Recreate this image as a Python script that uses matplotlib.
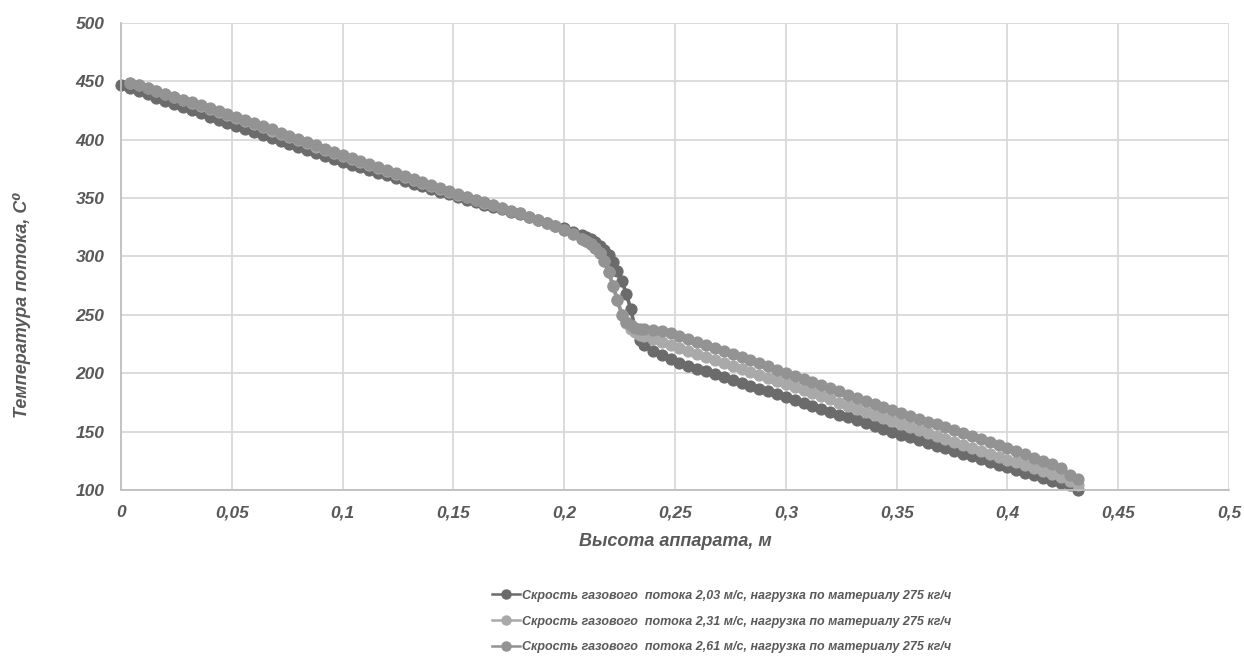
import numpy as np
import matplotlib
matplotlib.use("Agg")
import matplotlib.pyplot as plt
from matplotlib.lines import Line2D

# Высота аппарата, м (шаг мельче в зоне резкого падения температуры)
x_top = np.round(np.arange(0.0, 0.2081, 0.004), 3)
x_mid = np.round(np.arange(0.210, 0.2361, 0.002), 3)
x_low = np.round(np.arange(0.240, 0.4321, 0.004), 3)
height = np.concatenate([x_top, x_mid, x_low])

# 2,03 м/с
temp_203 = [447.0, 444.3, 441.6, 438.8, 436.1, 433.4, 430.7, 428.0, 425.2, 422.5,
            419.8, 417.1, 414.4, 411.7, 409.2, 406.6, 404.0, 401.5, 398.9, 396.4,
            393.8, 391.2, 388.7, 386.1, 383.6, 381.0, 378.7, 376.4, 374.0, 371.7,
            369.4, 367.1, 364.8, 362.4, 360.1, 357.8, 355.5, 353.2, 350.9, 348.8,
            346.7, 344.5, 342.4, 340.3, 338.1, 336.0, 333.6, 331.2, 328.8, 326.4,
            324.0, 321.4, 318.7,
            317.0, 315.0, 312.5, 309.0, 305.5, 301.0, 295.0, 288.0, 279.0, 268.0,
            255.0, 238.0, 228.5, 224.0,
            219.0, 215.4, 211.8, 208.8, 206.3, 203.9, 201.5, 199.0, 196.6, 194.1,
            191.7, 189.3, 186.8, 184.4, 181.9, 179.5, 177.0, 174.5, 172.1, 169.6,
            167.1, 164.6, 162.1, 159.7, 157.2, 154.7, 152.2, 149.7, 147.3, 145.0,
            142.7, 140.4, 138.1, 135.7, 133.4, 131.1, 128.8, 126.5, 124.1, 121.8,
            119.5, 117.2, 114.9, 112.6, 110.3, 108.0, 106.0, 104.0, 100.0]

# 2,31 м/с
temp_231 = [np.nan, 449.0, 446.5, 444.0, 441.4, 438.9, 436.4, 433.9, 431.3, 428.8,
            426.3, 423.8, 421.2, 418.6, 415.9, 413.2, 410.5, 407.8, 405.0, 402.3,
            399.6, 396.9, 394.2, 391.4, 388.7, 386.0, 383.4, 380.9, 378.3, 375.8,
            373.2, 370.6, 368.1, 365.5, 363.0, 360.4, 357.8, 355.3, 352.9, 350.6,
            348.3, 346.1, 343.8, 341.5, 339.3, 337.0, 334.2, 331.4, 328.6, 325.8,
            323.0, 319.0, 315.0,
            313.0, 310.5, 307.0, 303.0, 296.0, 287.0, 275.0, 262.5, 250.0, 243.0,
            238.0, 235.0, 233.0, 231.5,
            229.0, 226.4, 223.8, 221.2, 218.7, 216.2, 213.7, 211.2, 208.6, 206.1,
            203.6, 201.1, 198.6, 196.0, 193.5, 191.0, 188.3, 185.6, 182.9, 180.2,
            177.6, 174.9, 172.2, 169.5, 166.9, 164.2, 161.5, 158.8, 156.2, 153.7,
            151.2, 148.7, 146.2, 143.7, 141.1, 138.6, 136.1, 133.6, 131.0, 128.5,
            126.0, 123.6, 121.2, 118.8, 116.4, 114.0, 111.0, 108.0, 104.0]

# 2,61 м/с
temp_261 = [np.nan, 449.0, 446.6, 444.1, 441.7, 439.3, 436.8, 434.4, 432.0, 429.6,
            427.1, 424.7, 422.2, 419.6, 416.9, 414.2, 411.5, 408.8, 406.0, 403.3,
            400.6, 397.9, 395.2, 392.4, 389.7, 387.0, 384.4, 381.8, 379.2, 376.6,
            374.0, 371.4, 368.8, 366.2, 363.6, 361.0, 358.4, 355.8, 353.3, 351.0,
            348.7, 346.3, 344.0, 341.7, 339.3, 337.0, 334.2, 331.4, 328.6, 325.8,
            323.0, 319.0, 315.0,
            313.0, 310.5, 307.0, 303.0, 296.0, 287.0, 275.0, 262.5, 250.0, 244.0,
            241.0, 239.0, 238.0, 237.5,
            237.0, 236.0, 234.5, 232.2, 229.5, 226.9, 224.3, 221.6, 219.0, 216.3,
            213.7, 211.1, 208.4, 205.8, 203.1, 200.5, 197.8, 195.1, 192.5, 189.8,
            187.1, 184.4, 181.7, 179.1, 176.4, 173.7, 171.0, 168.3, 166.0, 163.5,
            161.0, 158.5, 156.1, 153.6, 151.1, 148.6, 146.1, 143.7, 141.2, 138.7,
            136.0, 133.2, 130.4, 127.6, 124.8, 122.0, 119.0, 113.0, 109.0]

series_labels = [
    "Скрость газового  потока 2,03 м/с, нагрузка по материалу 275 кг/ч",
    "Скрость газового  потока 2,31 м/с, нагрузка по материалу 275 кг/ч",
    "Скрость газового  потока 2,61 м/с, нагрузка по материалу 275 кг/ч",
]
x_ticks = [0, 0.05, 0.1, 0.15, 0.2, 0.25, 0.3, 0.35, 0.4, 0.45, 0.5]
x_tick_labels = ["0", "0,05", "0,1", "0,15", "0,2", "0,25", "0,3", "0,35", "0,4", "0,45", "0,5"]
y_ticks = [100, 150, 200, 250, 300, 350, 400, 450, 500]

colors = ["#6b6b6b", "#a9a9a9", "#939393"]
txt = "#595959"
grid_c = "#d9d9d9"
fam = ["Liberation Sans", "DejaVu Sans"]

fig = plt.figure(figsize=(12.44, 6.57), dpi=100)
ax = fig.add_axes([0.0973, 0.2542, 0.8907, 0.7108])

for temps, c, lab in zip([temp_203, temp_231, temp_261], colors, series_labels):
    ax.plot(height, temps, color=c, lw=2.6, marker="o", ms=7.8,
            markeredgecolor=c, markerfacecolor=c, label=lab, clip_on=False)

ax.set_xlim(0, 0.5)
ax.set_ylim(100, 500)
ax.set_xticks(x_ticks)
ax.set_xticklabels(x_tick_labels)
ax.set_yticks(y_ticks)
ax.grid(True, color=grid_c, lw=1.3)
ax.set_axisbelow(True)
for s in ["top", "right"]:
    ax.spines[s].set_visible(False)
for s in ["left", "bottom"]:
    ax.spines[s].set_color("#bfbfbf")
    ax.spines[s].set_linewidth(1.3)
ax.tick_params(length=0, pad=11)
ax.tick_params(axis="y", pad=12)
for t in ax.get_xticklabels() + ax.get_yticklabels():
    t.set_fontfamily(fam)
    t.set_fontstyle("italic")
    t.set_fontweight("bold")
    t.set_fontsize(12.5)
    t.set_color(txt)

ax.set_xlabel("Высота аппарата, м", family=fam, style="italic", weight="bold",
              fontsize=13, color=txt, labelpad=9)
fig.text(0.0175, (657 - 305) / 657, "Температура потока, C⁰", rotation=90,
         family=fam, style="italic", weight="bold", fontsize=13, color=txt,
         ha="center", va="center")

handles = [Line2D([], [], color=c, lw=1.8, marker="o", ms=6.5) for c in colors]
leg = fig.legend(handles, series_labels, loc="center", bbox_to_anchor=(0.58, 0.054),
                 frameon=False, handlelength=2.3, handletextpad=0.15, labelspacing=1.1,
                 prop={"family": fam, "style": "italic", "weight": "bold", "size": 9})
for t in leg.get_texts():
    t.set_color(txt)

fig.savefig("out.png", dpi=100)
